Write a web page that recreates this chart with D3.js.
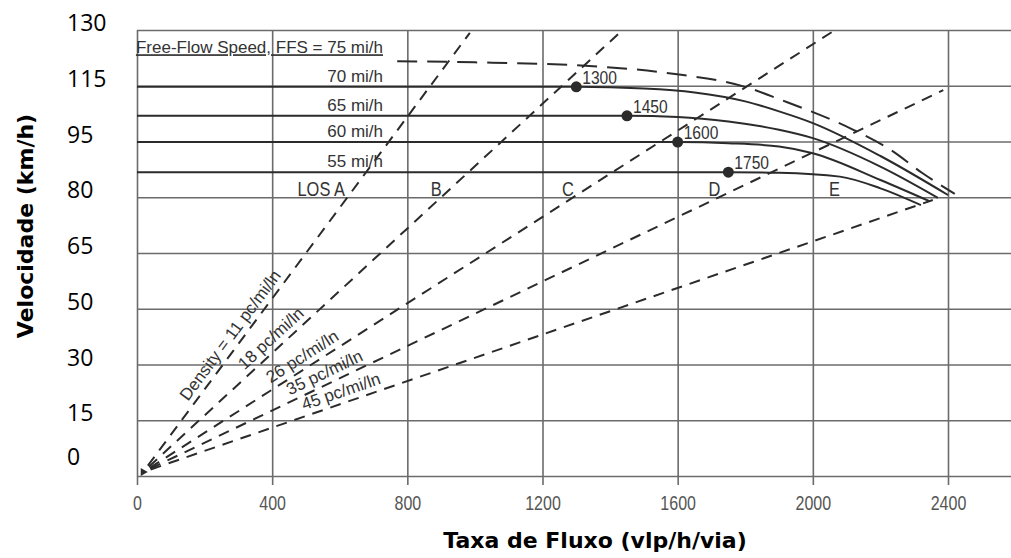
<!DOCTYPE html>
<html lang="pt">
<head>
<meta charset="UTF-8">
<title>Velocidade x Taxa de Fluxo</title>
<script src="https://d3js.org/d3.v7.min.js"></script>
<style>
  body { margin: 0; background: #fff; }
</style>
</head>
<body>
<script>

    // grid: flow ticks (vlp/h/via) and speed lines (mi/h) with km/h labels
    var flowTicks = [0, 400, 800, 1200, 1600, 2000, 2400];
    var speedGrid = [0, 10, 20, 30, 40, 50, 60, 70, 80];
    var kmhLabels = ["0", "15", "30", "50", "65", "80", "95", "115", "130"];

    // speed-flow curves, [flow, mi/h]
    var ffs75 = [[770, 74.4], [1000, 74.2], [1350, 73.5], [1580, 72.2], [1800, 69.8], [1900, 67.6], [2120, 62.1], [2230, 58.5], [2325, 54.3], [2420, 50.6]];
    var ffs70 = [[0, 69.8], [1300, 69.8], [1500, 69.5], [1650, 68.8], [1800, 67.2], [1900, 65.4], [2000, 63.3], [2200, 57.4], [2400, 50.4]];
    var ffs65 = [[0, 64.6], [1450, 64.6], [1600, 64.4], [1750, 63.6], [1900, 62.1], [2000, 60.6], [2200, 55.5], [2370, 49.9]];
    var ffs60 = [[0, 59.9], [1600, 59.9], [1750, 59.7], [1900, 59.1], [2000, 57.9], [2200, 53.1], [2345, 49.3]];
    var ffs55 = [[0, 54.5], [1750, 54.5], [1900, 54.4], [2080, 53.7], [2200, 51.6], [2320, 48.6]];
    var ffsNames = ["70 mi/h", "65 mi/h", "60 mi/h", "55 mi/h"];
    var ffsLabel = "Free-Flow Speed, FFS = 75 mi/h";

    // breakpoints (dots)
    var breakFlow = [1300, 1450, 1600, 1750];
    var breakSpeed = [69.8, 64.6, 59.9, 54.5];

    // density lines: origin and end point of each, [flow, mi/h]
    var densityOrigin = [18, 0.7];
    var densityEnd = [[985, 79.5], [1437, 80], [2066, 80], [2386, 69.2], [2355, 49.5]];
    var densityNames = ["Density = 11 pc/mi/ln", "18 pc/mi/ln", "26 pc/mi/ln", "35 pc/mi/ln", "45 pc/mi/ln"];
    var densityLabelFlow = [165, 330, 405, 460, 500];

    // level of service labels
    var losNames = ["LOS A", "B", "C", "D", "E"];
    var losFlow = [475, 869, 1258, 1691, 2048];

    var W = 1011, H = 558;
    var ink = "#2b2b2b", gridInk = "#6b6b6b", scanInk = "#333";
    var scanFont = "'Liberation Sans', Arial, sans-serif";

    // the scanned labels use a condensed face: squeeze the glyphs
    function condense(sel, k) {
        sel.each(function () {
            var len = this.getComputedTextLength();
            d3.select(this)
                .attr("textLength", len * k)
                .attr("lengthAdjust", "spacingAndGlyphs");
        });
    }

    var svg = d3.select("body").append("svg")
        .attr("width", W)
        .attr("height", H)
        .style("background", "#fff");

    var x = d3.scaleLinear().domain([0, 2400]).range([137, 948]);
    var y = d3.scaleLinear().domain([0, 80]).range([476, 30]);

    // vertical grid + tick labels
    var xAxis = d3.axisBottom(x)
        .tickValues(flowTicks)
        .tickSize(-(y(0) + 9 - y(80)))
        .tickPadding(11)
        .tickFormat(d3.format("d"));

    svg.append("g")
        .attr("transform", "translate(0," + (y(0) + 9) + ")")
        .call(xAxis)
        .call(function (g) { g.select(".domain").remove(); })
        .call(function (g) { g.selectAll("line").attr("stroke", gridInk).attr("stroke-width", 1.6); })
        .call(function (g) {
            g.selectAll("text")
                .attr("fill", "#555")
                .attr("font-family", scanFont)
                .attr("font-size", 20)
                .call(condense, 0.8);
        });

    // horizontal grid
    var yAxis = d3.axisLeft(y)
        .tickValues(speedGrid)
        .tickSize(-(W - x(0)))
        .tickFormat("");

    svg.append("g")
        .attr("transform", "translate(" + x(0) + ",0)")
        .call(yAxis)
        .call(function (g) { g.select(".domain").remove(); })
        .call(function (g) { g.selectAll("line").attr("stroke", gridInk).attr("stroke-width", 1.6); });

    // km/h labels
    svg.append("g").selectAll("text")
        .data(kmhLabels)
        .join("text")
        .attr("x", 67)
        .attr("y", function (d, i) { return Math.min(y(speedGrid[i]) + 1, y(0) - 11); })
        .attr("font-family", "'Open Sans', sans-serif")
        .attr("font-size", 23)
        .attr("fill", "#000")
        .text(function (d) { return d; });

    var line = d3.line()
        .x(function (d) { return x(d[0]); })
        .y(function (d) { return y(d[1]); });

    // density lines
    densityEnd.forEach(function (end, i) {
        svg.append("path")
            .attr("d", line([densityOrigin, end]))
            .attr("fill", "none")
            .attr("stroke", ink)
            .attr("stroke-width", 2)
            .attr("stroke-dasharray", "11,8")
            .attr("stroke-dashoffset", -8);

        var f = densityLabelFlow[i];
        var s = densityOrigin[1] + (f - densityOrigin[0]) * (end[1] - densityOrigin[1]) / (end[0] - densityOrigin[0]);
        var ang = Math.atan2(y(end[1]) - y(densityOrigin[1]), x(end[0]) - x(densityOrigin[0])) * 180 / Math.PI;
        svg.append("text")
            .attr("transform", "translate(" + x(f) + "," + y(s) + ") rotate(" + ang + ")")
            .attr("dy", -6)
            .attr("font-family", scanFont)
            .attr("font-size", 17)
            .attr("fill", scanInk)
            .text(densityNames[i]);
    });

    svg.append("path")
        .attr("d", d3.symbol(d3.symbolTriangle, 28)())
        .attr("transform", "translate(" + x(densityOrigin[0]) + "," + y(densityOrigin[1]) + ") rotate(-30)")
        .attr("fill", ink);

    // speed-flow curves
    var curve = d3.line()
        .x(function (d) { return x(d[0]); })
        .y(function (d) { return y(d[1]); })
        .curve(d3.curveMonotoneX);

    svg.append("path")
        .attr("d", curve(ffs75))
        .attr("fill", "none")
        .attr("stroke", ink)
        .attr("stroke-width", 2)
        .attr("stroke-dasharray", "20,10");

    [ffs70, ffs65, ffs60, ffs55].forEach(function (c, i) {
        svg.append("path")
            .attr("d", curve(c))
            .attr("fill", "none")
            .attr("stroke", ink)
            .attr("stroke-width", 2);

        svg.append("text")
            .attr("x", x(728))
            .attr("y", y(c[0][1]) - 5)
            .attr("text-anchor", "end")
            .attr("font-family", scanFont)
            .attr("font-size", 17)
            .attr("fill", scanInk)
            .text(ffsNames[i]);
    });

    svg.append("text")
        .attr("x", x(728))
        .attr("y", y(ffs75[0][1]) - 8)
        .attr("text-anchor", "end")
        .attr("font-family", scanFont)
        .attr("font-size", 17)
        .attr("fill", scanInk)
        .style("text-decoration", "underline")
        .text(ffsLabel);

    // breakpoints
    breakFlow.forEach(function (f, i) {
        svg.append("circle")
            .attr("cx", x(f))
            .attr("cy", y(breakSpeed[i]))
            .attr("r", 5.5)
            .attr("fill", ink);
        svg.append("text")
            .attr("x", x(f) + 6)
            .attr("y", y(breakSpeed[i]) - 3)
            .attr("font-family", scanFont)
            .attr("font-size", 19)
            .attr("fill", scanInk)
            .text(f)
            .call(condense, 0.82);
    });

    // LOS labels
    svg.append("g").selectAll("text")
        .data(losNames)
        .join("text")
        .attr("x", function (d, i) { return x(losFlow[i]); })
        .attr("y", y(50) - 1)
        .attr("font-family", scanFont)
        .attr("font-size", 20)
        .attr("fill", scanInk)
        .text(function (d) { return d; })
        .call(condense, 0.82);

    // axis titles
    svg.append("text")
        .attr("x", 595)
        .attr("y", 548)
        .attr("text-anchor", "middle")
        .attr("font-family", "'DejaVu Sans', sans-serif")
        .attr("font-weight", "bold")
        .attr("font-size", 22)
        .attr("fill", "#000")
        .text("Taxa de Fluxo (vlp/h/via)");

    svg.append("text")
        .attr("transform", "translate(33,226) rotate(-90)")
        .attr("text-anchor", "middle")
        .attr("font-family", "'DejaVu Sans', sans-serif")
        .attr("font-weight", "bold")
        .attr("font-size", 22)
        .attr("fill", "#000")
        .text("Velocidade (km/h)");

</script>
</body>
</html>
